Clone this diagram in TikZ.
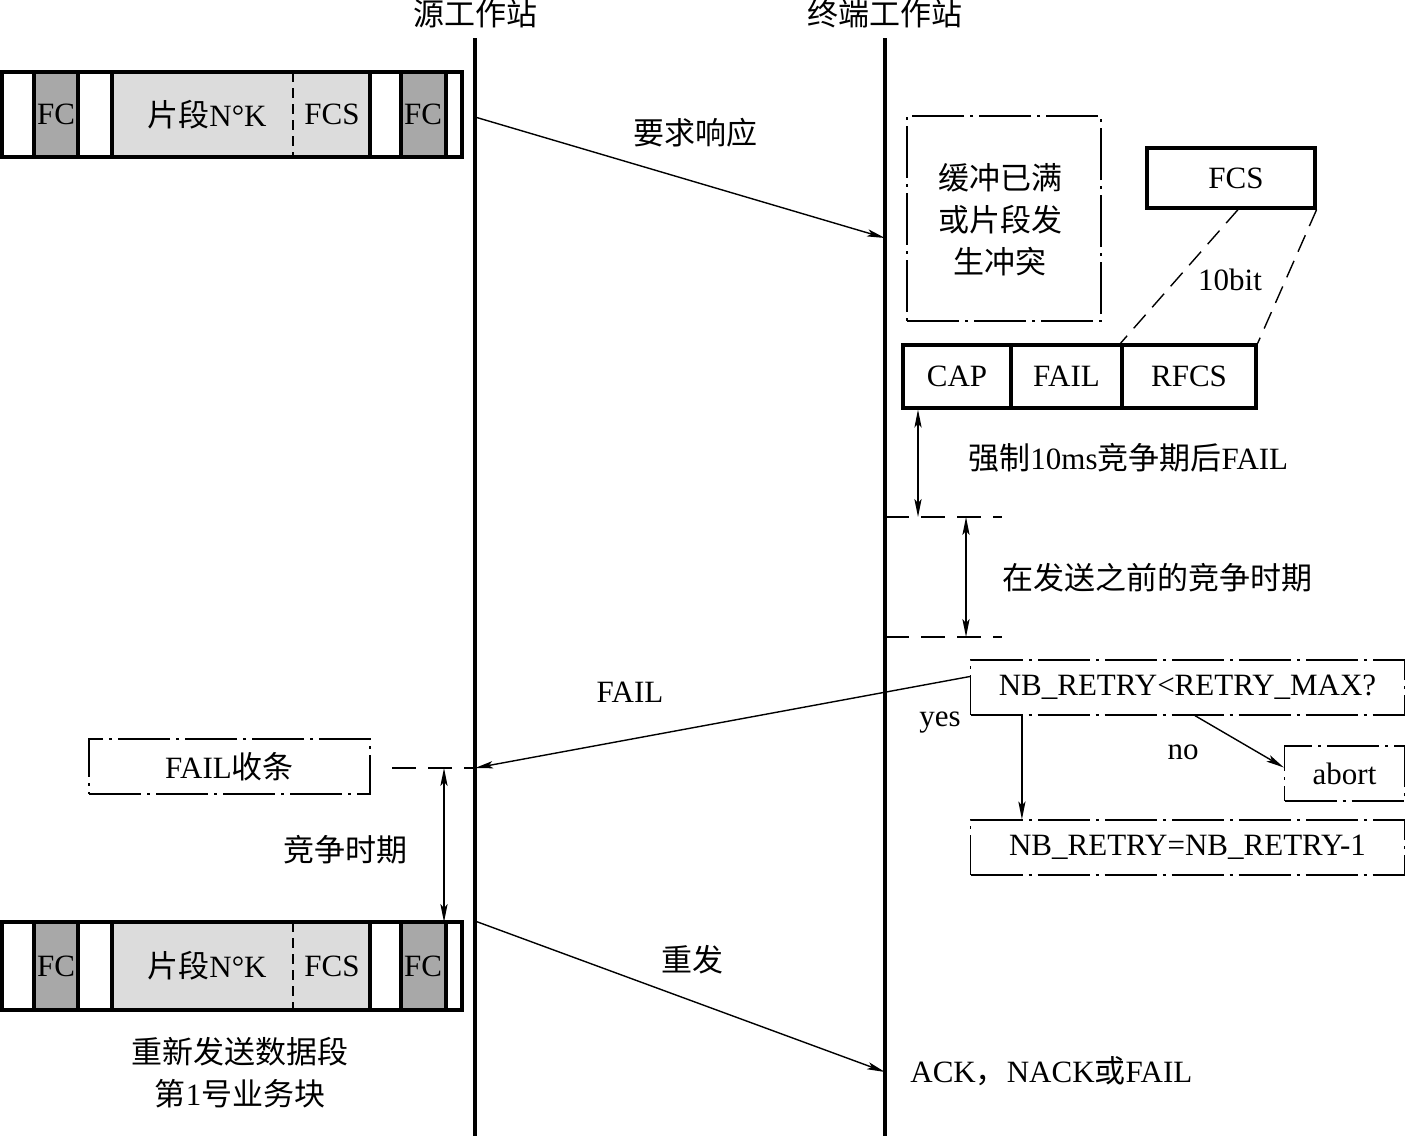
\documentclass[tikz,border=0pt]{standalone}
\usepackage{fontspec}
\setmainfont{Liberation Serif}
\newfontfamily\cjk{Noto Sans CJK SC}
\usetikzlibrary{arrows.meta,calc}
\newcommand\zh[1]{{\cjk #1}}
\definecolor{fcgray}{HTML}{A8A8A8}
\definecolor{seggray}{HTML}{DCDCDC}
\begin{document}
\begin{tikzpicture}[x=0.5pt,y=-0.5pt,
  every node/.style={font=\fontsize{15.5pt}{21pt}\selectfont, inner sep=0pt},
  thickline/.style={line width=1.6pt},
  thinline/.style={line width=0.7pt},
  tip/.style={thinline,-{Stealth[length=9pt,width=3.6pt,inset=2pt]}},
  both/.style={thinline,{Stealth[length=9pt,width=3.6pt,inset=2pt]}-{Stealth[length=9pt,width=3.6pt,inset=2pt]}},
  dashdot/.style={line width=0.6pt, dash pattern=on 26pt off 3pt on 1.5pt off 3pt},
  dashline/.style={line width=0.7pt, dash pattern=on 12pt off 6pt},
  ddbox/.style={draw, dashdot},
  solidbox/.style={draw, thickline},
]
\useasboundingbox (0,0) rectangle (1406,1136);

% lifelines
\node (srcT) at (475,14) {\zh{源工作站}};
\node (dstT) at (885,14) {\zh{终端工作站}};
\coordinate (srcTop) at (475,38);
\coordinate (srcBot) at (475,1136);
\coordinate (dstTop) at (885,38);
\coordinate (dstBot) at (885,1136);
\draw[thickline] (srcTop) -- (srcBot);
\draw[thickline] (dstTop) -- (dstBot);

% frames
\foreach \t/\b/\n in {72/157/a, 922/1010/b}{
  \fill[fcgray] (34,\t) rectangle (78,\b);
  \fill[fcgray] (401,\t) rectangle (446,\b);
  \fill[seggray] (112,\t) rectangle (370,\b);
  \draw[thickline] (2,\t) rectangle (462,\b);
  \foreach \x in {34,78,112,370,401,446} \draw[thickline] (\x,\t) -- (\x,\b);
  \draw[thinline, dash pattern=on 5pt off 3pt] (293,\t) -- (293,\b);
  \node (fcl\n) at (56,{(\t+\b)/2}) {FC};
  \node (seg\n) at (207,{(\t+\b)/2}) {\zh{片段}N°K};
  \node (fcs\n) at (332,{(\t+\b)/2}) {FCS};
  \node (fcr\n) at (423,{(\t+\b)/2}) {FC};
}

% request
\coordinate (req0) at (475,117);
\coordinate (req1) at (885,238);
\draw[tip] (req0) -- (req1);
\node (reqL) at (695,133) {\zh{要求响应}};

% buffer box
\node[ddbox, minimum width=97pt, minimum height=102.5pt] (buf) at (1004,218.5) {};
\node[align=center] (bufT) at (1000,220) {\zh{缓冲已满}\\\zh{或片段发}\\\zh{生冲突}};

% FCS detail
\node[solidbox, minimum width=84pt, minimum height=30pt] (fcsbox) at (1231,178) {};
\node (fcsT) at (1236,178) {FCS};
\node[solidbox, minimum width=54pt, minimum height=31.5pt] (cap) at (957,376.5) {CAP};
\node[solidbox, minimum width=55.5pt, minimum height=31.5pt] (fail) at (1066.5,376.5) {FAIL};
\node[solidbox, minimum width=67pt, minimum height=31.5pt] (rfcs) at (1189,376.5) {RFCS};
\draw[dashline, dash pattern=on 9pt off 5pt] ($(fcsbox.south)+(7,0)$) -- (rfcs.north west);
\draw[dashline, dash pattern=on 9pt off 5pt] (fcsbox.south east) -- (rfcs.north east);
\node (tenbit) at (1230,280) {10bit};

% contention periods
\coordinate (c1a) at (885,517);
\coordinate (c1b) at (1002,517);
\coordinate (c2a) at (885,637);
\coordinate (c2b) at (1002,637);
\draw[dashline] (c1a) -- (c1b);
\draw[dashline] (c2a) -- (c2b);
\draw[both] (cap.south west -| 918,0) -- (918,517);
\node[anchor=west] (forceL) at (968,458) {\zh{强制}10ms\zh{竞争期后}FAIL};
\draw[both] (966,517) -- (966,637);
\node[anchor=west] (beforeL) at (1002,578) {\zh{在发送之前的竞争时期}};

% retry logic
\node[ddbox, minimum width=217pt, minimum height=27.5pt] (nb) at (1187.5,687.5) {NB\_RETRY<RETRY\_MAX?};
\node[ddbox, minimum width=60pt, minimum height=27.5pt] (abort) at (1344.5,773.5) {abort};
\node[ddbox, minimum width=217pt, minimum height=27.5pt] (nb2) at (1187.5,847.5) {NB\_RETRY=NB\_RETRY-1};
\draw[tip] ($(nb.south west)+(52,0)$) -- ($(nb2.north west)+(52,0)$);
\draw[tip] ($(nb.south west)+(225,0)$) -- ($(abort.west)+(0,-6)$);
\node (yes) at (940,723) {yes};
\node (no) at (1183,752) {no};

% FAIL back
\coordinate (failEnd) at (475,768);
\draw[tip] ($(nb.west)+(0,-11)$) -- (failEnd);
\node (failL) at (630,692) {FAIL};
\node[ddbox, minimum width=140.5pt, minimum height=27.5pt] (ack) at (229.5,766.5) {FAIL\zh{收条}};
\coordinate (ackD) at (392,768);
\draw[dashline] (ackD) -- (failEnd);
\draw[both] (444,768) -- (444,922);
\node (contL) at (345,850) {\zh{竞争时期}};

% resend
\coordinate (rs0) at (475,921);
\coordinate (rs1) at (885,1072);
\draw[tip] (rs0) -- (rs1);
\node (rsL) at (692,960) {\zh{重发}};
\node[anchor=west] (ackL) at (910,1071) {ACK\zh{，}NACK\zh{或}FAIL};
\node[align=center] (resendL) at (240,1073) {\zh{重新发送数据段}\\\zh{第}1\zh{号业务块}};
\end{tikzpicture}
\end{document}
